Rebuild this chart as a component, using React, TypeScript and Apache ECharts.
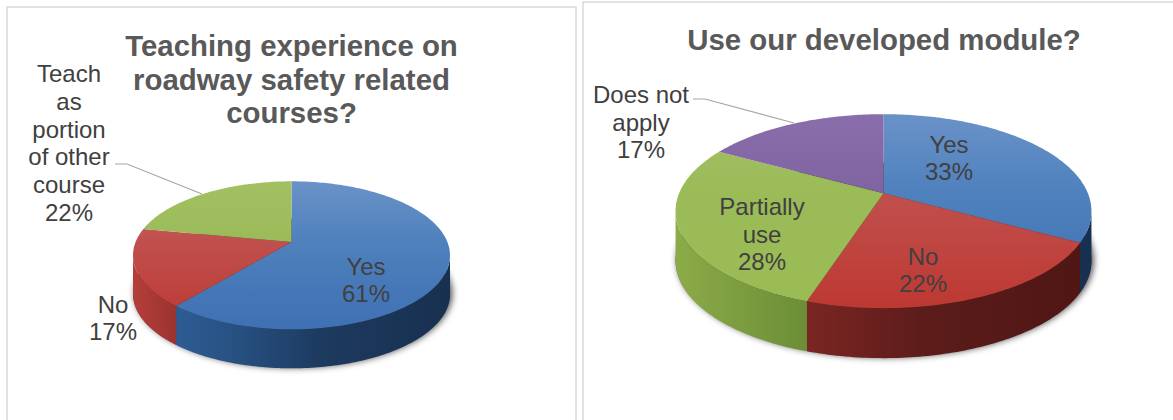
import React, { useEffect, useRef } from "react";
import * as echarts from "echarts";

// Survey answers, in percent, clockwise from twelve o'clock.
const teachingCategories = ["Yes", "No", "Teach\nas\nportion\nof other\ncourse"];
const teachingValues = [61, 17, 22];
const moduleCategories = ["Yes", "No", "Partially\nuse", "Does not\napply"];
const moduleValues = [33, 22, 28, 17];

const teachingTitle = "Teaching experience on\nroadway safety related\ncourses?";
const moduleTitle = "Use our developed module?";

// Face shading (top to foot) and rim shading (left to right) per slice.
const palette = [
  {
    base: [79, 129, 189],
    light: [106, 146, 200],
    dark: [62, 112, 180],
    wall: [[50, 100, 160], [40, 82, 132], [29, 58, 95], [24, 48, 80]],
  },
  {
    base: [192, 80, 77],
    light: [204, 104, 100],
    dark: [190, 56, 50],
    wall: [[180, 62, 58], [124, 38, 35], [92, 28, 26], [78, 22, 20]],
  },
  {
    base: [155, 187, 89],
    light: [163, 192, 98],
    dark: [155, 187, 84],
    wall: [[140, 171, 72], [109, 143, 55], [85, 112, 43], [70, 92, 35]],
  },
  {
    base: [128, 100, 162],
    light: [138, 110, 172],
    dark: [118, 82, 155],
    wall: [[105, 80, 135], [85, 64, 110], [62, 47, 80], [50, 38, 65]],
  },
];
const wallStops = [0, 0.3, 0.6, 1];

const FONT = '"Liberation Sans", Arial, sans-serif';
const TEXT_COLOR = "#404040";
const TITLE_COLOR = "#595959";
const LEADER_COLOR = "#a6a6a6";
const LABEL_LINE = 27.7;

// Projected disc: the apex sits above the ellipse centre because of the perspective term k.
const teachingDisc = { cx: 291.5, cy: 242, sx: 155.9, sy: 71.6, k: 0.18, depth: 39 };
const moduleDisc = { cx: 883.5, cy: 193.3, sx: 204.4, sy: 93.7, k: 0.184, depth: 50 };

const teachingLabelAt = [
  [366, 280],
  [113, 318],
  [69, 143],
];
const moduleLabelAt = [
  [949, 158],
  [923, 270],
  [762, 234],
  [641, 122],
];

const teachingLeader = [
  [115, 164],
  [127, 164],
  [202, 194],
];
const moduleLeader = [
  [693, 99],
  [705, 99],
  [794, 123],
];

type Disc = typeof teachingDisc;

function project(d: Disc, deg: number, dy = 0): number[] {
  const t = (deg * Math.PI) / 180;
  const w = 1 + d.k * Math.cos(t);
  return [d.cx + (d.sx * Math.sin(t)) / w, d.cy - (d.sy * Math.cos(t)) / w + dy];
}

function bounds(d: Disc) {
  const a = 1 / Math.sqrt(1 - d.k * d.k);
  const b = 1 / (1 - d.k * d.k);
  const midY = d.cy + (d.sy * d.k) / (1 - d.k * d.k);
  return {
    left: d.cx - d.sx * a,
    right: d.cx + d.sx * a,
    top: midY - d.sy * b,
    bottom: midY + d.sy * b,
    midY,
  };
}

const rgb = (c: number[]) => `rgb(${c.map((v) => Math.round(v)).join(",")})`;

function sliceRenderer(
  d: Disc,
  values: number[],
  categories: string[],
  labelAt: number[][],
  leader: number[][],
) {
  const total = values.reduce((s, v) => s + v, 0);
  const box = bounds(d);
  return (params: any) => {
    const i = params.dataIndex;
    const before = values.slice(0, i).reduce((s, v) => s + v, 0);
    const start = (before / total) * 360;
    const end = ((before + values[i]) / total) * 360;
    const arc: number[][] = [];
    const front: number[][] = [];
    for (let a = start; ; a = Math.min(a + 1, end)) {
      const p = project(d, a);
      arc.push(p);
      if (p[1] >= box.midY) front.push(p);
      if (a >= end) break;
    }
    const colors = palette[i];
    const children: any[] = [];

    if (i === 0) {
      // Soft shadow hugging the underside of the disc.
      const rim: number[][] = [];
      for (let a = 0; a < 360; a += 2) rim.push(project(d, a, d.depth - 1));
      children.push({
        type: "polygon",
        z2: 1,
        shape: { points: rim },
        style: {
          fill: "#30302f",
          shadowBlur: 7,
          shadowColor: "rgba(0,0,0,0.75)",
          shadowOffsetX: 2,
          shadowOffsetY: 0,
        },
      });
    }

    if (front.length > 1) {
      const wall = [...front, ...front.slice().reverse().map(([x, y]) => [x, y + d.depth])];
      children.push({
        type: "polygon",
        z2: 2,
        shape: { points: wall },
        style: {
          fill: {
            type: "linear",
            global: true,
            x: box.left,
            y: 0,
            x2: box.right,
            y2: 0,
            colorStops: colors.wall.map((c, n) => ({ offset: wallStops[n], color: rgb(c) })),
          },
        },
      });
    }

    children.push({
      type: "polygon",
      z2: 3,
      shape: { points: [[d.cx, d.cy], ...arc] },
      style: {
        fill: {
          type: "linear",
          global: true,
          x: 0,
          y: box.top,
          x2: 0,
          y2: box.bottom,
          colorStops: [
            { offset: 0, color: rgb(colors.light) },
            { offset: 0.4, color: rgb(colors.base) },
            { offset: 1, color: rgb(colors.dark) },
          ],
        },
      },
    });

    children.push({
      type: "text",
      z2: 5,
      x: labelAt[i][0],
      y: labelAt[i][1],
      style: {
        text: `${categories[i]}\n${values[i]}%`,
        font: `24px ${FONT}`,
        lineHeight: LABEL_LINE,
        fill: TEXT_COLOR,
        align: "center",
        verticalAlign: "middle",
      },
    });

    if (i === values.length - 1) {
      children.push({
        type: "polyline",
        z2: 4,
        shape: { points: leader },
        style: { stroke: LEADER_COLOR, lineWidth: 1.2, fill: "none" },
      });
    }
    return { type: "group", children };
  };
}

function titleOption(text: string, left: number, top: number) {
  return {
    text,
    left,
    top,
    textAlign: "center",
    padding: 0,
    textStyle: {
      fontFamily: FONT,
      fontSize: 29.4,
      fontWeight: "bold",
      color: TITLE_COLOR,
      lineHeight: 33.5,
    },
  };
}

function pieSeries(
  d: Disc,
  values: number[],
  categories: string[],
  labelAt: number[][],
  leader: number[][],
) {
  return {
    type: "custom",
    coordinateSystem: "none",
    silent: true,
    data: values,
    renderItem: sliceRenderer(d, values, categories, labelAt, leader),
  };
}

export default function App() {
  const ref = useRef<HTMLDivElement>(null);

  useEffect(() => {
    document.body.style.margin = "0";
    const chart = echarts.init(ref.current!, null, { renderer: "svg" });
    chart.setOption({
      animation: false,
      backgroundColor: "#ffffff",
      title: [titleOption(teachingTitle, 291.5, 29), titleOption(moduleTitle, 884, 23)],
      graphic: [
        {
          type: "rect",
          silent: true,
          shape: { x: 7, y: 7, width: 569, height: 430 },
          style: { fill: "#ffffff", stroke: "#d9d9d9", lineWidth: 1.5 },
          z: -1,
        },
        {
          type: "rect",
          silent: true,
          shape: { x: 583, y: 2, width: 610, height: 440 },
          style: { fill: "#ffffff", stroke: "#d9d9d9", lineWidth: 1.5 },
          z: -1,
        },
      ],
      series: [
        pieSeries(teachingDisc, teachingValues, teachingCategories, teachingLabelAt, teachingLeader),
        pieSeries(moduleDisc, moduleValues, moduleCategories, moduleLabelAt, moduleLeader),
      ],
    });
    return () => chart.dispose();
  }, []);

  return <div ref={ref} style={{ width: 1173, height: 420 }} />;
}
